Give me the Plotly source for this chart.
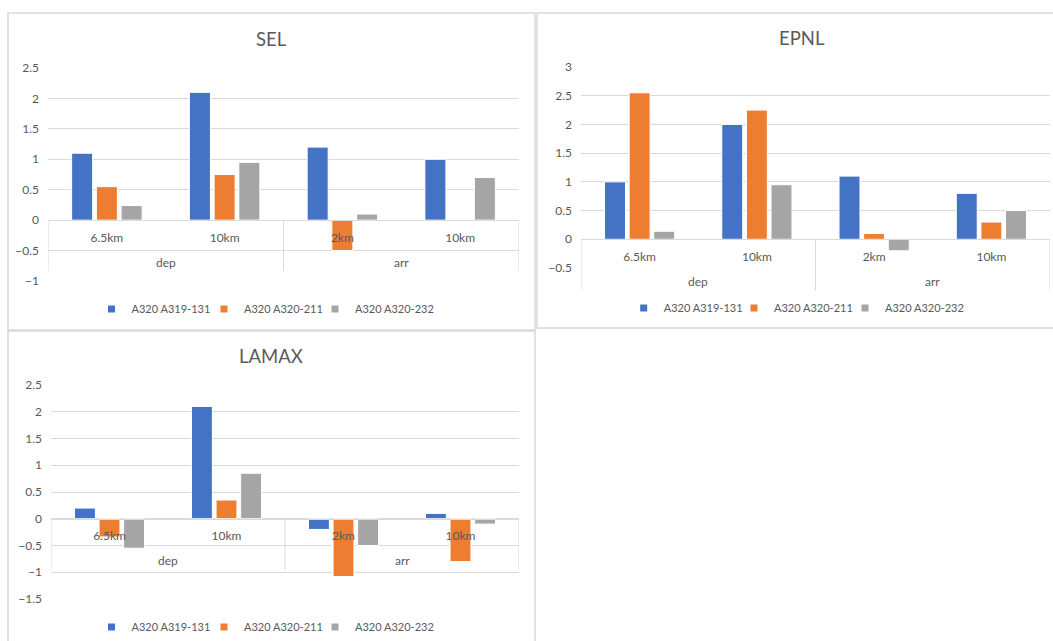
import plotly.graph_objects as go

W, H = 1053, 641

# ---------------- data ----------------
groups = ["dep", "dep", "arr", "arr"]
distances = ["6.5km", "10km", "2km", "10km"]
series_names = ["A320 A319-131", "A320 A320-211", "A320 A320-232"]
colors = ["#4472C4", "#ED7D31", "#A5A5A5"]

sel_a319_131 = [1.1, 2.1, 1.2, 1.0]
sel_a320_211 = [0.55, 0.75, -0.5, 0.0]
sel_a320_232 = [0.24, 0.95, 0.1, 0.7]

epnl_a319_131 = [1.0, 2.0, 1.1, 0.8]
epnl_a320_211 = [2.55, 2.25, 0.1, 0.3]
epnl_a320_232 = [0.14, 0.95, -0.2, 0.5]

lamax_a319_131 = [0.2, 2.1, -0.2, 0.1]
lamax_a320_211 = [-0.34, 0.35, -1.08, -0.8]
lamax_a320_232 = [-0.55, 0.85, -0.5, -0.1]

panel_titles = ["SEL", "EPNL", "LAMAX"]
panel_series = [
    [sel_a319_131, sel_a320_211, sel_a320_232],
    [epnl_a319_131, epnl_a320_211, epnl_a320_232],
    [lamax_a319_131, lamax_a320_211, lamax_a320_232],
]
y_ranges = [(-1, 2.5), (-0.5, 3), (-1.5, 2.5)]

# ---------------- layout geometry (pixels) ----------------
plot_x = [(48, 519), (581, 1050), (51, 519)]
plot_y = [(68, 281), (67, 268), (385, 599)]
title_pos = [(271, 39), (802, 38), (271, 356)]
legend_sq_x = [(118.5, 231, 342), (650.7, 761, 872), (118.5, 231, 342)]
legend_y = [309, 308, 627]
frames = [(8, 13, 535, 330), (537, 13, 1056, 328), (8, 331, 535, 645)]
ROW1_PX, ROW2_PX = 42, 51   # group label centre / divider depth below zero line

TEXT = "#595959"
GRID = "#D9D9D9"
FONT = "Lato"


def fx(x):
    return x / W


def fy(y):
    return 1 - y / H


positions = list(range(len(distances)))

fig = go.Figure()
layout = dict(
    width=W, height=H,
    margin=dict(l=0, r=0, t=0, b=0, pad=0, autoexpand=False),
    paper_bgcolor="white", plot_bgcolor="white",
    font=dict(family=FONT, size=12, color=TEXT),
    barmode="group", bargap=0.37, bargroupgap=0.15,
    annotations=[], shapes=[],
)

leg_n = 0
for i in range(3):
    sfx = "" if i == 0 else str(i + 1)
    xa, ya = "x" + sfx, "y" + sfx
    for k in range(3):
        leg_n += 1
        leg = "legend" if leg_n == 1 else "legend" + str(leg_n)
        fig.add_trace(go.Bar(
            x=positions, y=panel_series[i][k], name=series_names[k],
            marker=dict(color=colors[k], line=dict(color="white", width=1)),
            xaxis=xa, yaxis=ya, showlegend=False, hoverinfo="y",
        ))
        fig.add_trace(go.Scatter(
            x=[None], y=[None], mode="markers", name=series_names[k],
            marker=dict(symbol="square", size=7, color=colors[k]),
            xaxis=xa, yaxis=ya, showlegend=True, legend=leg, hoverinfo="skip",
        ))
        layout[leg] = dict(
            orientation="h", x=fx(legend_sq_x[i][k] - 27), y=fy(legend_y[i]),
            xanchor="left", yanchor="middle", xref="paper", yref="paper",
            font=dict(family=FONT, size=11, color=TEXT),
            bgcolor="rgba(0,0,0,0)", itemwidth=30,
        )

    r0, r1 = y_ranges[i]
    (px0, px1), (py0, py1) = plot_x[i], plot_y[i]
    zero_px = py0 + (r1 - 0) / (r1 - r0) * (py1 - py0)

    layout["xaxis" + sfx] = dict(
        domain=[fx(px0), fx(px1)], anchor="free", position=fy(zero_px),
        range=[-0.5, len(distances) - 0.5],
        tickmode="array", tickvals=positions, ticktext=distances,
        showline=True, linecolor=GRID, linewidth=1,
        showgrid=False, zeroline=False, ticks="", ticklabelstandoff=6,
        tickfont=dict(family=FONT, size=12, color=TEXT),
        fixedrange=True, automargin=False,
    )
    layout["yaxis" + sfx] = dict(
        domain=[fy(py1), fy(py0)], anchor=xa, range=[r0, r1],
        dtick=0.5, showgrid=True, gridcolor=GRID, gridwidth=1,
        zeroline=False, showline=False, ticks="",
        ticklabelstandoff=8,
        tickfont=dict(family=FONT, size=12, color=TEXT),
        fixedrange=True, automargin=False,
    )

    # group labels (dep / arr) and dividers of the two-level category axis
    seen = []
    for g in groups:
        if g not in seen:
            seen.append(g)
    for g in seen:
        idx = [p for p, gg in zip(positions, groups) if gg == g]
        layout["annotations"].append(dict(
            text=g, x=sum(idx) / len(idx), xref=xa,
            y=fy(zero_px + ROW1_PX), yref="paper",
            xanchor="center", yanchor="middle", showarrow=False,
            font=dict(family=FONT, size=12, color=TEXT),
        ))
    bounds = [positions[0] - 0.5]
    for p in range(1, len(groups)):
        if groups[p] != groups[p - 1]:
            bounds.append(positions[p] - 0.5)
    bounds.append(positions[-1] + 0.5)
    for b in bounds:
        layout["shapes"].append(dict(
            type="line", xref=xa, yref="paper", x0=b, x1=b,
            y0=fy(zero_px), y1=fy(zero_px + ROW2_PX),
            line=dict(color=GRID, width=1),
        ))

    tx, ty = title_pos[i]
    layout["annotations"].append(dict(
        text=panel_titles[i], x=fx(tx), y=fy(ty), xref="paper", yref="paper",
        xanchor="center", yanchor="middle", showarrow=False,
        font=dict(family=FONT, size=18.5, color=TEXT),
    ))
    x0, y0, x1, y1 = frames[i]
    layout["shapes"].append(dict(
        type="rect", xref="paper", yref="paper",
        x0=fx(x0), x1=fx(x1), y0=fy(y1), y1=fy(y0),
        line=dict(color=GRID, width=1.5), fillcolor="rgba(0,0,0,0)",
        layer="below",
    ))

fig.update_layout(**layout)
fig.write_html(
    "out.html",
    config={"displayModeBar": False},
    post_script="document.body.style.margin='0px';document.body.style.overflow='hidden';",
)
